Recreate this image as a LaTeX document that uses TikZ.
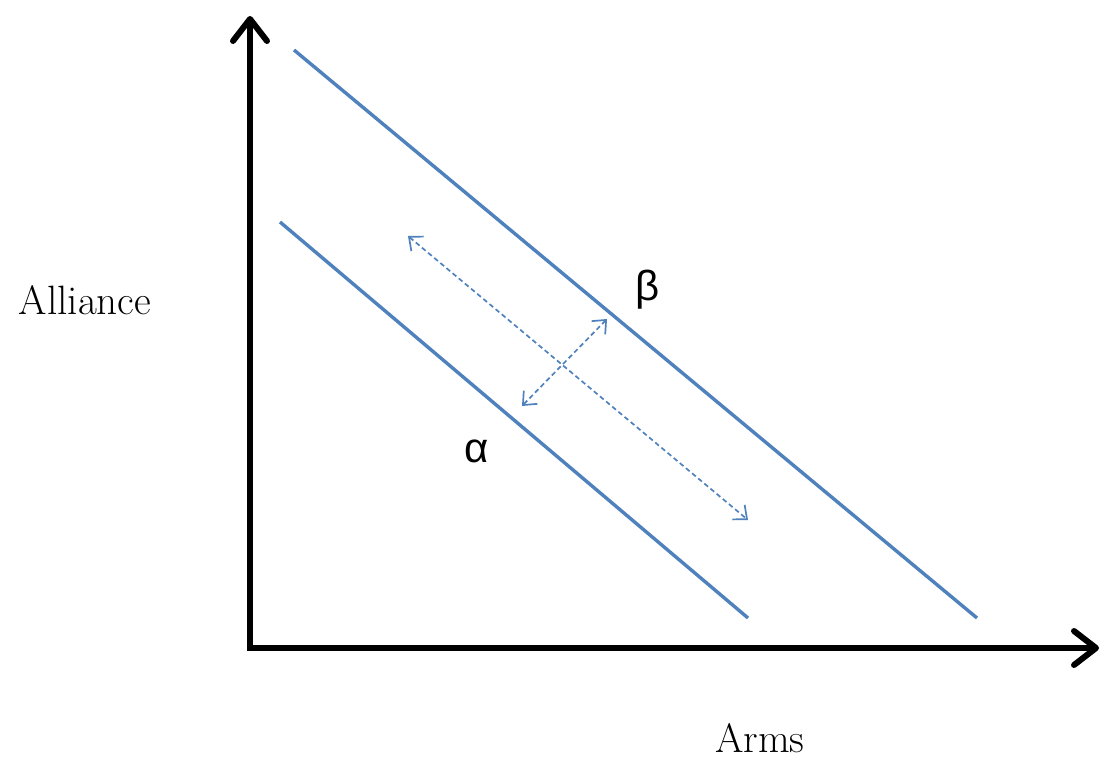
\documentclass[tikz,border=0pt]{standalone}
\usepackage{fontspec}
\newfontfamily\greekfont{Liberation Sans}
\usetikzlibrary{arrows.meta}
\definecolor{lineblue}{RGB}{79,129,189}
\tikzset{
  axis/.style={line width=3pt, -{Straight Barb[length=11pt,width=17pt,line width=3pt,round]}},
  curve/.style={line width=1.7pt, lineblue},
  shiftarrow/.style={line width=0.85pt, lineblue, dash pattern=on 2.4pt off 1.6pt,
     {Straight Barb[length=5.5pt,width=9.5pt,line width=0.85pt]}-{Straight Barb[length=5.5pt,width=9.5pt,line width=0.85pt]}},
  lbl/.style={font=\fontsize{20.5}{24}\selectfont, inner sep=0pt},
  glbl/.style={font=\greekfont\fontsize{21}{24}\selectfont, inner sep=0pt}
}
\begin{document}
\begin{tikzpicture}[x=0.5pt,y=-0.5pt]
\useasboundingbox (0,0) rectangle (1102,759);
\coordinate (O) at (250,648);
\coordinate (Ytop) at (250,16);
\coordinate (Xend) at (1099,648);
\draw[axis] (250,651) -- (Ytop);
\draw[axis] (247,648) -- (Xend);
\coordinate (a1) at (280,222);
\coordinate (a2) at (748,618);
\coordinate (b1) at (294,50);
\coordinate (b2) at (977,618);
\draw[curve] (a1) -- (a2);
\draw[curve] (b1) -- (b2);
\coordinate (d1) at (408,236);
\coordinate (d2) at (748,520);
\coordinate (e1) at (607,319);
\coordinate (e2) at (522,406);
\draw[shiftarrow] (d1) -- (d2);
\draw[shiftarrow] (e1) -- (e2);
\node[glbl] (alpha) at (477,451) {α};
\node[glbl] (beta) at (648,290) {β};
\node[lbl] (yl) at (85,300) {Alliance};
\node[lbl] (xl) at (760,738) {Arms};
\end{tikzpicture}
\end{document}
